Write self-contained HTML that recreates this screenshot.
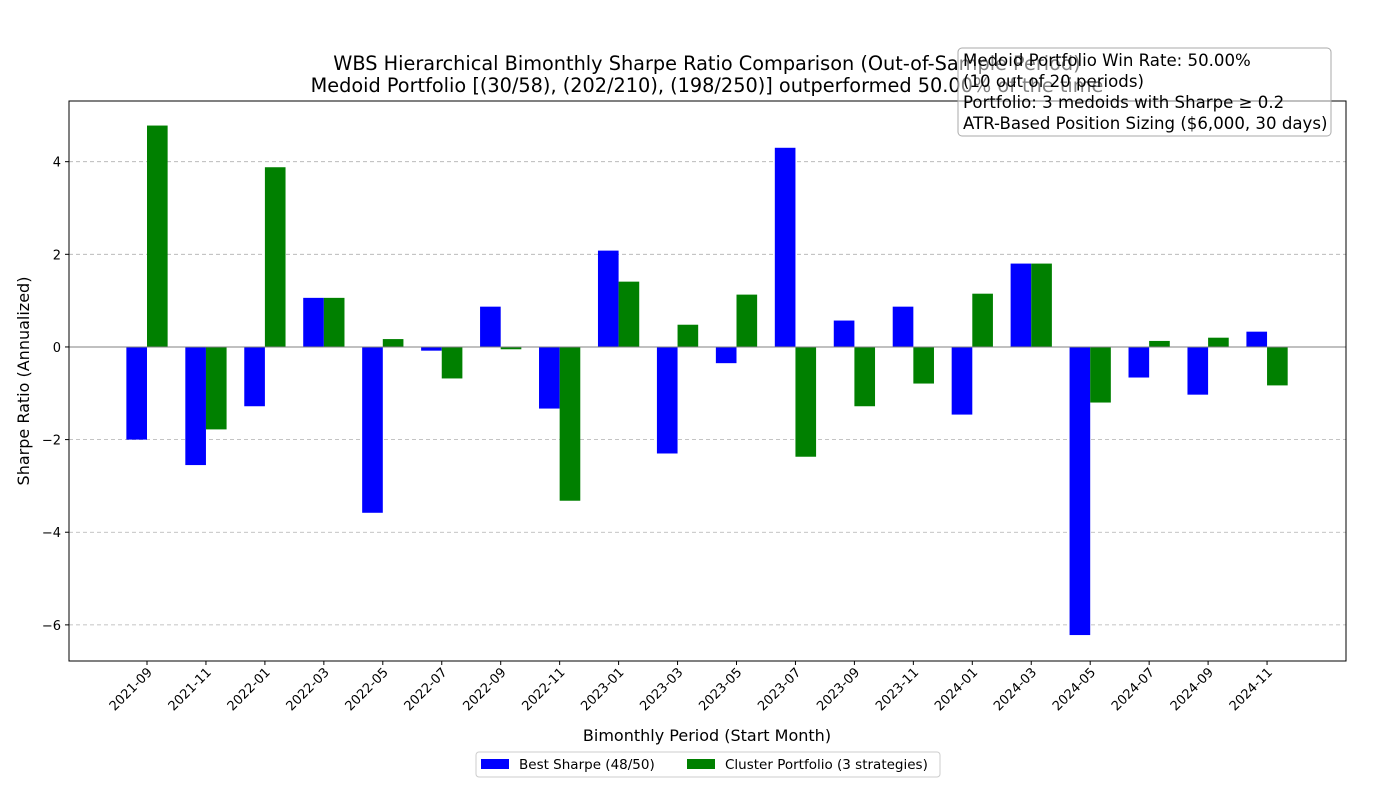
<!DOCTYPE html>
<html><head><meta charset="utf-8"><style>
body{margin:0;background:#fff;}
svg{font-family:"DejaVu Sans","Liberation Sans",sans-serif;}
</style></head><body>
<svg id="c" width="1400" height="800" xmlns="http://www.w3.org/2000/svg"></svg>
<script>
const categories=["2021-09","2021-11","2022-01","2022-03","2022-05","2022-07","2022-09","2022-11","2023-01","2023-03","2023-05","2023-07","2023-09","2023-11","2024-01","2024-03","2024-05","2024-07","2024-09","2024-11"];
const bestSharpe=[-2.0,-2.55,-1.28,1.06,-3.58,-0.08,0.87,-1.33,2.08,-2.3,-0.35,4.3,0.57,0.87,-1.46,1.8,-6.22,-0.66,-1.03,0.33];
const clusterSharpe=[4.78,-1.78,3.88,1.06,0.17,-0.68,-0.05,-3.32,1.41,0.48,1.13,-2.37,-1.28,-0.79,1.15,1.8,-1.2,0.13,0.2,-0.83];
const yTicks=[-6,-4,-2,0,2,4];
const NS="http://www.w3.org/2000/svg";
const svg=document.getElementById('c');
const L=69,R=1346,T=101,B=661;
const yMin=-6.78,yMax=5.31;
const y=v=>B-(v-yMin)/(yMax-yMin)*(B-T);
const step=58.95,x0=147;
const x=i=>x0+i*step;
const bw=0.35*step;
function el(t,a,txt){const e=document.createElementNS(NS,t);for(const k in a)e.setAttribute(k,a[k]);if(txt!==undefined)e.textContent=txt;svg.appendChild(e);return e;}
yTicks.forEach(v=>{
 const g=el('line',{x1:L,x2:R,y1:y(v),y2:y(v),stroke:'#b0b0b0','stroke-dasharray':'4,3','stroke-width':0.8});
 
 
 const tk=el('line',{x1:L-4,x2:L,y1:y(v),y2:y(v),stroke:'#000'});
 
 
 const lb=el('text',{x:L-8,y:y(v)+5,'text-anchor':'end','font-size':13},(v<0?'\u2212'+(-v):v));
 
 
});
categories.forEach((c,i)=>{
 const b=bestSharpe[i],g=clusterSharpe[i];
 const r1=el('rect',{x:x(i)-bw,y:Math.min(y(b),y(0)),width:bw,height:Math.abs(y(b)-y(0)),fill:'#0000ff'});
 
 
 const r2=el('rect',{x:x(i),y:Math.min(y(g),y(0)),width:bw,height:Math.abs(y(g)-y(0)),fill:'#008000'});
 
 
 const tk=el('line',{x1:x(i),x2:x(i),y1:B,y2:B+4,stroke:'#000'});
 
 
 const lb=el('text',{x:x(i)+6,y:B+12,'text-anchor':'end','font-size':13,transform:`rotate(-45 ${x(i)+6} ${B+12})`},c);
 
 
});
const zl=el('line',{x1:L,x2:R,y1:y(0),y2:y(0),stroke:'#808080','stroke-width':1});


const fr=el('rect',{x:L,y:T,width:R-L,height:B-T,fill:'none',stroke:'#000','stroke-width':1});


</script>
<svg style="position:absolute;left:0;top:0" width="1400" height="800" xmlns="http://www.w3.org/2000/svg">
<text x="707" y="70" text-anchor="middle" font-size="19.3">WBS Hierarchical Bimonthly Sharpe Ratio Comparison (Out-of-Sample Period)</text>
<text x="707" y="92" text-anchor="middle" font-size="19.3">Medoid Portfolio [(30/58), (202/210), (198/250)] outperformed 50.00% of the time</text>
<text x="707" y="741" text-anchor="middle" font-size="16">Bimonthly Period (Start Month)</text>
<text x="29" y="381" text-anchor="middle" font-size="16" transform="rotate(-90 29 381)">Sharpe Ratio (Annualized)</text>
<g>
<rect x="958" y="48" width="373" height="88" rx="4" fill="#fff" fill-opacity="0.5" stroke="#aaa"/>
<text x="963" y="66" font-size="16.6">Medoid Portfolio Win Rate: 50.00%</text>
<text x="963" y="87" font-size="16.6">(10 out of 20 periods)</text>
<text x="963" y="108" font-size="16.6">Portfolio: 3 medoids with Sharpe ≥ 0.2</text>
<text x="963" y="129" font-size="16.6">ATR-Based Position Sizing ($6,000, 30 days)</text>
</g>
<g>
<rect x="476" y="752" width="464" height="25" rx="3" fill="#fff" stroke="#ccc"/>
<rect x="481" y="759" width="28" height="10" fill="#0000ff"/>
<text x="519" y="769" font-size="13.5">Best Sharpe (48/50)</text>
<rect x="687" y="759" width="28" height="10" fill="#008000"/>
<text x="725" y="769" font-size="13.5">Cluster Portfolio (3 strategies)</text>
</g>
</svg>
</body></html>
